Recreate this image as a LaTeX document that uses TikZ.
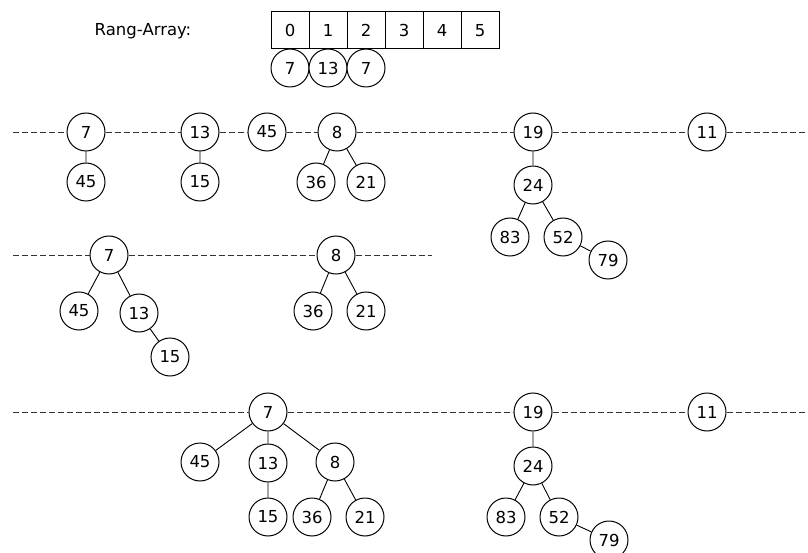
\documentclass[tikz,border=0pt]{standalone}
\usepackage{fontspec}
\setmainfont{DejaVu Sans}
\begin{document}
\begin{tikzpicture}[x=1pt,y=-1pt,
  every node/.style={font=\fontsize{16.5}{19}\selectfont},
  hn/.style={circle,draw,line width=1pt,minimum size=38pt,inner sep=0pt,fill=white},
  cell/.style={rectangle,draw,line width=1pt,minimum width=38pt,minimum height=37pt,inner sep=0pt},
  tedge/.style={line width=0.9pt},
  root/.style={dashed,dash pattern=on 6pt off 3pt,line width=0.9pt,draw=black!80}]
\useasboundingbox (0,0) rectangle (808,553);
% array
\node at (143,31) {Rang-Array:};
\foreach \i in {0,...,5} {
  \node[cell] (c\i) at (290+38*\i,30.5) {\i};
}
\node[hn] (a0) at (290,68) {7};
\node[hn] (a1) at (328,68) {13};
\node[hn] (a2) at (366,68) {7};
% row 1
\coordinate (l1) at (13,132);
\coordinate (r1) at (808,132);
\node[hn] (p7) at (86,132) {7};
\node[hn] (p45) at (86,182) {45};
\node[hn] (p13) at (200,132) {13};
\node[hn] (p15) at (200,182) {15};
\node[hn] (q45) at (267,132) {45};
\node[hn] (p8) at (337,132) {8};
\node[hn] (p36) at (316,182) {36};
\node[hn] (p21) at (366,182) {21};
\node[hn] (p19) at (533,132) {19};
\node[hn] (p24) at (533,185) {24};
\node[hn] (p83) at (510,237) {83};
\node[hn] (p52) at (563,237) {52};
\node[hn] (p79) at (608,260) {79};
\node[hn] (p11) at (707,132) {11};
\draw[root] (l1) -- (p7) (p7) -- (p13) (p13) -- (q45) (q45) -- (p8) (p8) -- (p19) (p19) -- (p11) (p11) -- (r1);
\draw[tedge] (p7) -- (p45) (p13) -- (p15) (p8) -- (p36) (p8) -- (p21)
  (p19) -- (p24) (p24) -- (p83) (p24) -- (p52) (p52) -- (p79);
% row 2
\coordinate (l2) at (13,255);
\coordinate (r2) at (432,255);
\node[hn] (s7) at (109,255) {7};
\node[hn] (s45) at (79,311) {45};
\node[hn] (s13) at (139,313) {13};
\node[hn] (s15) at (170,357) {15};
\node[hn] (s8) at (336,255) {8};
\node[hn] (s36) at (313,311) {36};
\node[hn] (s21) at (366,311) {21};
\draw[root] (l2) -- (s7) (s7) -- (s8) (s8) -- (r2);
\draw[tedge] (s7) -- (s45) (s7) -- (s13) (s13) -- (s15) (s8) -- (s36) (s8) -- (s21);
% row 3
\coordinate (l3) at (13,412);
\coordinate (r3) at (808,412);
\node[hn] (t7) at (268,412) {7};
\node[hn] (t45) at (200,462) {45};
\node[hn] (t13) at (268,463) {13};
\node[hn] (t8) at (335,462) {8};
\node[hn] (t15) at (268,517) {15};
\node[hn] (t36) at (312,517) {36};
\node[hn] (t21) at (365,517) {21};
\node[hn] (t19) at (533,412) {19};
\node[hn] (t24) at (533,466) {24};
\node[hn] (t83) at (506,517) {83};
\node[hn] (t52) at (559,517) {52};
\node[hn] (t79) at (609,540) {79};
\node[hn] (t11) at (707,412) {11};
\draw[root] (l3) -- (t7) (t7) -- (t19) (t19) -- (t11) (t11) -- (r3);
\draw[tedge] (t7) -- (t45) (t7) -- (t13) (t7) -- (t8) (t13) -- (t15) (t8) -- (t36) (t8) -- (t21)
  (t19) -- (t24) (t24) -- (t83) (t24) -- (t52) (t52) -- (t79);
\end{tikzpicture}
\end{document}
